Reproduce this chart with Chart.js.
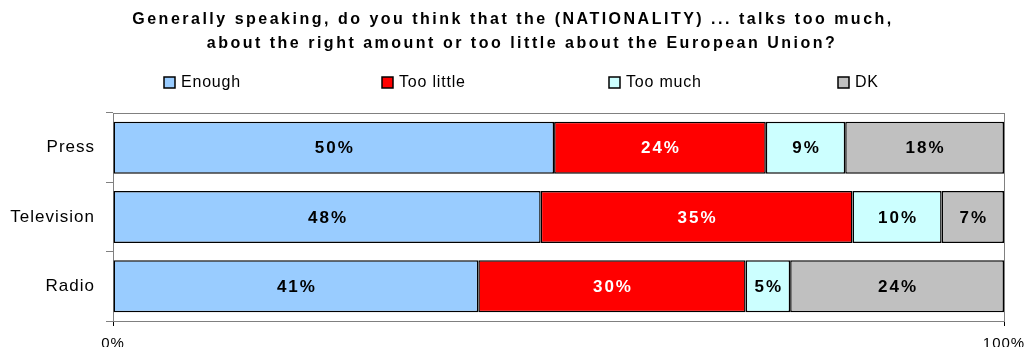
<!DOCTYPE html>
<html>
<head>
<meta charset="utf-8">
<script src="https://cdn.jsdelivr.net/npm/chart.js@4/dist/chart.umd.min.js"></script>
<style>
  html, body { margin: 0; padding: 0; background: #fff; overflow: hidden; width: 1024px; height: 347px; }
  #box { position: relative; width: 1024px; height: 361px; }
</style>
</head>
<body>
<div id="box"><canvas id="myChart"></canvas></div>
<script>
// les données
const categories = ['Press', 'Television', 'Radio'];
const enough = [50, 48, 41];
const tooLittle = [24, 35, 30];
const tooMuch = [9, 10, 5];
const dk = [18, 7, 24];
const seriesNames = ['Enough', 'Too little', 'Too much', 'DK'];
const xTicks = [0, 100];
const titleLines = [
    'Generally speaking, do you think that the (NATIONALITY) ... talks too much,',
    'about the right amount or too little about the European Union?'
];

const FONT = "'Liberation Sans', Arial, sans-serif";
const series = [enough, tooLittle, tooMuch, dk];
const colors = ['#99CCFF', '#FF0000', '#CCFFFF', '#C0C0C0'];
const labelColors = ['#000', '#fff', '#000', '#000'];

// barres empilées à 100 %
const totals = categories.map((c, j) => series.reduce((s, arr) => s + arr[j], 0));

const datasets = series.map((arr, i) => ({
    label: seriesNames[i],
    data: arr.map((v, j) => v / totals[j] * 100),
    raw: arr,
    backgroundColor: colors[i],
    borderColor: '#000',
    borderWidth: 1.5,
    borderSkipped: false,
    barPercentage: 0.75,
    categoryPercentage: 1
}));

// espacement des lettres pour les textes dessinés par Chart.js
const spacing = {
    id: 'spacing',
    beforeLayout(chart) { chart.ctx.letterSpacing = '1px'; },
    beforeDraw(chart) { chart.ctx.letterSpacing = '1px'; }
};

// titre + légende dessinés à la main
const header = {
    id: 'header',
    afterDraw(chart) {
        const ctx = chart.ctx;
        ctx.save();
        ctx.letterSpacing = '2.5px';
        ctx.fillStyle = '#000';
        ctx.font = 'bold 16px ' + FONT;
        ctx.textAlign = 'center';
        ctx.textBaseline = 'middle';
        ctx.fillText(titleLines[0], 513, 20);
        ctx.fillText(titleLines[1], 522, 44);

        const legendX = [164, 382, 609, 838];
        ctx.letterSpacing = '0.8px';
        ctx.font = '16px ' + FONT;
        ctx.textAlign = 'left';
        chart.data.datasets.forEach((ds, i) => {
            const x = legendX[i];
            ctx.fillStyle = ds.backgroundColor;
            ctx.fillRect(x, 77, 11, 11);
            ctx.strokeStyle = '#000';
            ctx.lineWidth = 1.5;
            ctx.strokeRect(x, 77, 11, 11);
            ctx.fillStyle = '#000';
            ctx.fillText(ds.label, x + 17, 83);
        });
        ctx.restore();
    }
};

// cadre gris de la zone de tracé
const frame = {
    id: 'frame',
    beforeDatasetsDraw(chart) {
        const a = chart.chartArea;
        const ctx = chart.ctx;
        ctx.save();
        ctx.strokeStyle = '#808080';
        ctx.lineWidth = 1;
        ctx.strokeRect(a.left + 0.5, a.top + 0.5, a.right - a.left, a.bottom - a.top);
        ctx.restore();
    }
};

// étiquettes de valeurs dans les barres
const valueLabels = {
    id: 'valueLabels',
    afterDatasetsDraw(chart) {
        const ctx = chart.ctx;
        ctx.save();
        ctx.letterSpacing = '2px';
        ctx.font = 'bold 17px ' + FONT;
        ctx.textAlign = 'center';
        ctx.textBaseline = 'middle';
        chart.data.datasets.forEach((ds, i) => {
            chart.getDatasetMeta(i).data.forEach((bar, j) => {
                const p = bar.getProps(['x', 'y', 'base'], true);
                ctx.fillStyle = labelColors[i];
                ctx.fillText(ds.raw[j] + '%', (p.x + p.base) / 2 + 1, p.y + 1);
            });
        });
        ctx.restore();
    }
};

const chart = new Chart(
    document.getElementById('myChart'),
    {
        type: 'bar',
        data: {
            labels: categories,
            datasets: datasets
        },
        plugins: [spacing, frame, valueLabels, header],
        options: {
            indexAxis: 'y',
            animation: false,
            responsive: true,
            maintainAspectRatio: false,
            layout: {
                padding: { top: 113, right: 0, left: 0, bottom: 0 }
            },
            plugins: {
                legend: { display: false },
                title: { display: false },
                tooltip: { enabled: false }
            },
            scales: {
                x: {
                    stacked: true,
                    min: xTicks[0],
                    max: xTicks[xTicks.length - 1],
                    afterBuildTicks(scale) {
                        scale.ticks = xTicks.map(v => ({ value: v }));
                    },
                    afterFit(scale) { scale.paddingRight = 20; },
                    grid: {
                        drawOnChartArea: false,
                        tickLength: 5,
                        color: '#000'
                    },
                    border: { color: '#404040', width: 1 },
                    ticks: {
                        padding: 8.5,
                        maxRotation: 0,
                        color: '#000',
                        font: { size: 15, family: FONT },
                        callback: v => v + '%'
                    }
                },
                y: {
                    stacked: true,
                    afterFit(scale) { scale.width = 113; },
                    grid: {
                        offset: true,
                        drawOnChartArea: false,
                        tickLength: 7,
                        color: '#808080'
                    },
                    border: { color: '#000', width: 1 },
                    ticks: {
                        padding: 11,
                        color: '#000',
                        font: { size: 17, family: FONT }
                    }
                }
            }
        }
    }
);
</script>
</body>
</html>
